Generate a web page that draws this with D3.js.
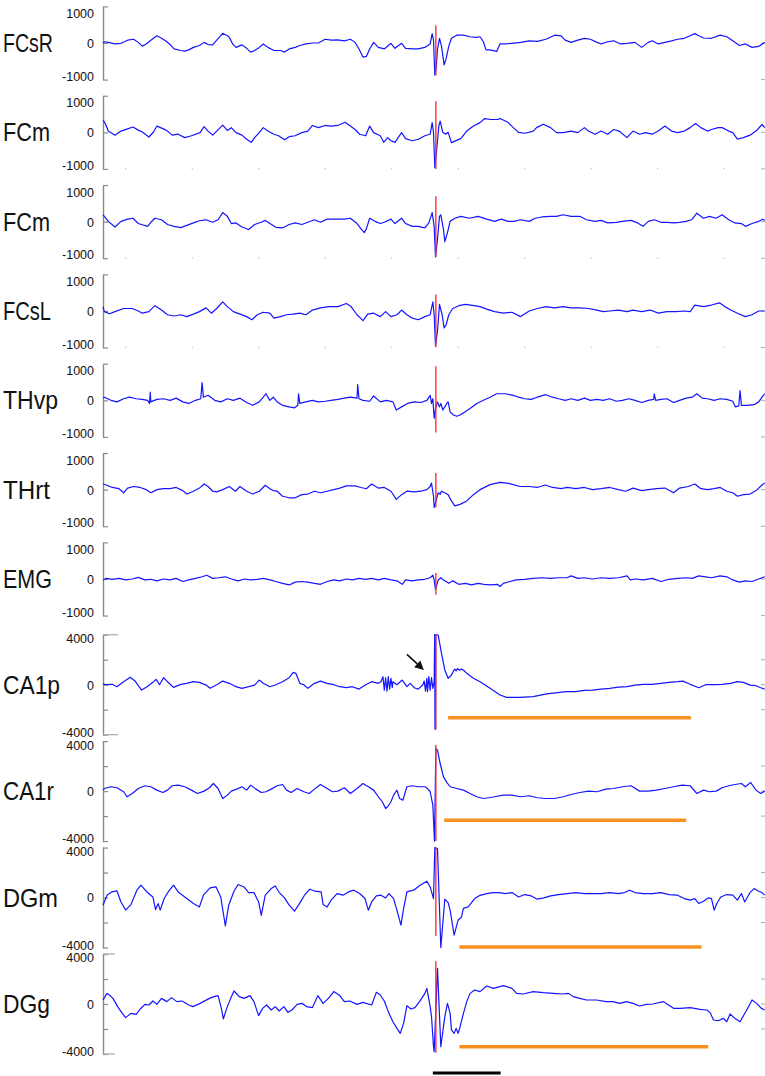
<!DOCTYPE html>
<html><head><meta charset="utf-8">
<script src="https://cdn.jsdelivr.net/npm/d3@7"></script>
<style>html,body{margin:0;padding:0;background:#fff;}svg{display:block;}</style>
</head><body>
<svg id="chart" width="765" height="1076"></svg>
<script>
// ---------------- DATA (time in s relative to stimulus, amplitude in µV) ----------------
const channelNames = ["FCsR","FCm","FCm","FCsL","THvp","THrt","EMG","CA1p","CA1r","DGm","DGg"];
const labelMagnitude = [1000,1000,1000,1000,1000,1000,1000,4000,4000,4000,4000];

const fcsR = [[-5.00,0],[-4.98,40],[-4.92,20],[-4.82,-30],[-4.73,-10],[-4.63,90],[-4.54,120],[-4.47,20],[-4.41,-100],[-4.35,-30],[-4.28,90],[-4.19,230],[-4.12,150],[-4.06,70],[-3.99,-50],[-3.93,-190],[-3.83,-240],[-3.77,-260],[-3.71,-220],[-3.64,-140],[-3.55,-80],[-3.48,20],[-3.42,-50],[-3.35,-60],[-3.29,90],[-3.20,310],[-3.13,230],[-3.10,180],[-3.05,-30],[-3.00,-140],[-2.91,-60],[-2.84,-170],[-2.78,-290],[-2.72,-240],[-2.65,-140],[-2.59,-30],[-2.52,-140],[-2.43,-240],[-2.33,-240],[-2.27,-290],[-2.20,-190],[-2.11,-140],[-2.04,-80],[-1.95,-30],[-1.85,0],[-1.76,0],[-1.66,120],[-1.57,90],[-1.47,100],[-1.37,70],[-1.28,120],[-1.21,20],[-1.15,-190],[-1.09,-450],[-1.04,-430],[-0.99,-190],[-0.93,20],[-0.86,-140],[-0.77,-190],[-0.67,-10],[-0.61,-170],[-0.51,-10],[-0.45,-170],[-0.35,-190],[-0.26,-190],[-0.16,-140],[-0.08,-30],[-0.05,300],[-0.03,100],[-0.01,-1030],[0.01,-800],[0.03,-200],[0.06,150],[0.09,-100],[0.13,-700],[0.16,-500],[0.20,-100],[0.24,150],[0.32,250],[0.42,250],[0.52,200],[0.61,180],[0.67,200],[0.72,40],[0.76,-220],[0.82,-220],[0.92,-270],[0.97,-30],[1.05,-30],[1.15,-10],[1.28,20],[1.41,70],[1.53,50],[1.66,120],[1.79,250],[1.89,230],[1.95,90],[2.04,20],[2.14,90],[2.24,150],[2.33,120],[2.43,20],[2.49,-30],[2.59,40],[2.68,70],[2.78,-30],[2.88,-10],[3.00,20],[3.10,-140],[3.20,20],[3.26,70],[3.35,-30],[3.45,20],[3.55,70],[3.64,120],[3.74,150],[3.83,230],[3.90,300],[3.96,230],[4.03,160],[4.15,150],[4.28,250],[4.38,200],[4.47,70],[4.57,-80],[4.66,-30],[4.76,-140],[4.86,-110],[4.95,20]];

const fcm1 = [[-5.00,380],[-4.97,300],[-4.92,40],[-4.82,-90],[-4.73,40],[-4.63,110],[-4.55,170],[-4.47,70],[-4.41,10],[-4.31,-150],[-4.24,10],[-4.19,200],[-4.09,110],[-4.03,40],[-3.96,-90],[-3.87,-60],[-3.77,-170],[-3.67,-110],[-3.54,-10],[-3.48,180],[-3.42,40],[-3.35,-90],[-3.29,40],[-3.20,230],[-3.13,60],[-3.07,150],[-3.00,-10],[-2.91,-90],[-2.84,-220],[-2.77,-320],[-2.72,-170],[-2.65,-10],[-2.59,150],[-2.52,40],[-2.43,-60],[-2.36,-110],[-2.27,-240],[-2.20,-140],[-2.11,-110],[-2.01,-10],[-1.92,40],[-1.85,220],[-1.76,150],[-1.66,220],[-1.57,200],[-1.47,220],[-1.36,320],[-1.28,200],[-1.21,90],[-1.14,-60],[-1.05,-110],[-0.99,200],[-0.93,-10],[-0.83,-110],[-0.78,-320],[-0.72,-170],[-0.67,-270],[-0.61,-320],[-0.51,-10],[-0.45,-200],[-0.35,-270],[-0.26,-220],[-0.16,-110],[-0.08,-60],[-0.05,310],[-0.03,0],[-0.01,-1130],[0.02,-500],[0.05,200],[0.07,360],[0.11,0],[0.15,-60],[0.19,0],[0.24,-330],[0.29,-280],[0.38,-200],[0.47,40],[0.57,200],[0.67,310],[0.74,440],[0.83,410],[0.93,410],[0.97,440],[1.09,320],[1.17,150],[1.25,0],[1.35,-30],[1.47,40],[1.52,150],[1.62,260],[1.73,150],[1.82,-10],[1.92,-10],[2.04,40],[2.14,-10],[2.24,150],[2.30,40],[2.40,-60],[2.49,40],[2.59,-60],[2.68,90],[2.76,40],[2.88,-170],[2.97,40],[3.07,-60],[3.16,-10],[3.26,-60],[3.35,40],[3.45,200],[3.55,40],[3.64,-10],[3.74,40],[3.83,150],[3.91,280],[3.99,150],[4.09,40],[4.15,90],[4.25,150],[4.31,150],[4.41,40],[4.47,-10],[4.54,-220],[4.63,-170],[4.73,-90],[4.82,40],[4.91,250],[4.95,150]];

const fcm2 = [[-5.00,220],[-4.98,170],[-4.92,10],[-4.82,-170],[-4.73,10],[-4.63,80],[-4.55,110],[-4.47,-60],[-4.41,-100],[-4.33,-150],[-4.28,-20],[-4.22,110],[-4.12,60],[-4.03,-90],[-3.93,-150],[-3.83,-190],[-3.74,-120],[-3.64,-40],[-3.55,30],[-3.45,60],[-3.35,-20],[-3.27,60],[-3.20,290],[-3.13,170],[-3.07,-60],[-3.00,-40],[-2.91,-170],[-2.81,-250],[-2.72,-90],[-2.62,-20],[-2.56,40],[-2.49,-60],[-2.40,-180],[-2.30,-200],[-2.20,-90],[-2.11,-40],[-2.01,-90],[-1.92,-20],[-1.82,60],[-1.73,-20],[-1.63,80],[-1.50,80],[-1.37,80],[-1.28,110],[-1.18,-60],[-1.12,-230],[-1.07,-350],[-1.04,-230],[-0.99,110],[-0.91,10],[-0.83,-60],[-0.77,-20],[-0.67,80],[-0.61,-60],[-0.51,110],[-0.45,-60],[-0.35,-150],[-0.26,-150],[-0.16,-200],[-0.10,-40],[-0.05,290],[-0.02,-150],[0.00,-1130],[0.03,-560],[0.06,170],[0.08,220],[0.12,-250],[0.14,-640],[0.18,-350],[0.22,10],[0.29,110],[0.38,170],[0.51,110],[0.64,170],[0.77,80],[0.89,10],[0.99,80],[1.09,10],[1.18,10],[1.28,60],[1.41,10],[1.50,110],[1.60,150],[1.73,170],[1.82,170],[1.92,220],[2.04,170],[2.17,170],[2.27,60],[2.40,10],[2.49,40],[2.59,-40],[2.72,-20],[2.81,10],[2.94,40],[3.04,-40],[3.12,-150],[3.20,10],[3.29,60],[3.39,-20],[3.48,-20],[3.58,-40],[3.67,-20],[3.77,10],[3.85,60],[3.93,270],[4.03,110],[4.12,170],[4.22,110],[4.31,220],[4.41,60],[4.50,-40],[4.60,-60],[4.66,-150],[4.76,-60],[4.86,10],[4.92,80],[4.95,40]];

const fcsL = [[-5.00,140],[-4.98,-20],[-4.90,-90],[-4.82,-20],[-4.69,80],[-4.56,80],[-4.47,0],[-4.41,-70],[-4.31,-20],[-4.22,170],[-4.12,30],[-4.03,-120],[-3.93,-160],[-3.83,-120],[-3.74,-180],[-3.64,-100],[-3.55,-20],[-3.45,100],[-3.37,-70],[-3.29,80],[-3.20,290],[-3.13,140],[-3.04,-20],[-2.94,-100],[-2.84,-180],[-2.76,-280],[-2.68,-120],[-2.59,-40],[-2.49,-70],[-2.43,-230],[-2.33,-180],[-2.24,-120],[-2.14,-100],[-2.04,-70],[-1.95,-120],[-1.85,30],[-1.73,100],[-1.60,140],[-1.47,140],[-1.34,240],[-1.27,140],[-1.18,-120],[-1.09,-310],[-1.02,-100],[-0.93,-70],[-0.83,-180],[-0.75,-20],[-0.67,-180],[-0.58,-120],[-0.51,30],[-0.43,-120],[-0.35,-230],[-0.26,-280],[-0.16,-180],[-0.08,-120],[-0.04,290],[-0.02,-120],[0.00,-1110],[0.03,-640],[0.06,210],[0.10,-120],[0.13,-540],[0.16,-440],[0.20,-120],[0.26,80],[0.35,170],[0.45,210],[0.58,170],[0.67,140],[0.77,60],[0.89,-20],[1.02,-70],[1.15,-40],[1.28,-180],[1.41,0],[1.53,80],[1.66,140],[1.79,100],[1.92,140],[2.04,100],[2.17,100],[2.30,80],[2.43,30],[2.52,-20],[2.62,0],[2.75,30],[2.88,-20],[2.97,30],[3.10,-20],[3.23,30],[3.35,-70],[3.48,-20],[3.61,-20],[3.74,0],[3.83,-20],[3.90,190],[4.03,140],[4.15,190],[4.27,260],[4.35,140],[4.44,30],[4.54,-70],[4.66,-180],[4.76,-120],[4.86,0],[4.95,0]];

const thvp = [[-5.00,70],[-4.98,100],[-4.88,0],[-4.79,-50],[-4.69,50],[-4.60,100],[-4.50,50],[-4.41,30],[-4.33,0],[-4.30,-100],[-4.29,260],[-4.28,-50],[-4.19,30],[-4.09,50],[-3.99,0],[-3.90,70],[-3.80,-50],[-3.71,-100],[-3.61,0],[-3.53,50],[-3.51,570],[-3.49,100],[-3.42,160],[-3.32,0],[-3.23,-50],[-3.13,50],[-3.04,0],[-2.94,70],[-2.84,-70],[-2.75,-160],[-2.65,-50],[-2.59,100],[-2.55,210],[-2.49,0],[-2.44,100],[-2.38,-50],[-2.30,-160],[-2.20,-210],[-2.12,-240],[-2.07,-160],[-2.06,210],[-2.04,-100],[-1.95,-50],[-1.85,0],[-1.76,-50],[-1.66,-30],[-1.57,0],[-1.47,30],[-1.37,70],[-1.28,100],[-1.18,70],[-1.17,500],[-1.15,50],[-1.09,0],[-0.99,-30],[-0.93,140],[-0.83,-50],[-0.74,0],[-0.64,-50],[-0.59,-310],[-0.51,-210],[-0.42,-100],[-0.32,-50],[-0.22,-70],[-0.13,0],[-0.08,160],[-0.06,-100],[-0.04,50],[-0.02,-570],[0.00,-260],[0.03,-50],[0.06,-210],[0.08,-100],[0.11,-310],[0.14,-210],[0.17,-100],[0.19,-50],[0.22,-370],[0.27,-470],[0.32,-510],[0.37,-470],[0.44,-370],[0.52,-260],[0.62,-100],[0.72,0],[0.82,100],[0.92,210],[1.05,210],[1.17,160],[1.25,100],[1.34,50],[1.44,30],[1.53,100],[1.66,180],[1.76,100],[1.85,50],[1.95,0],[2.04,50],[2.14,0],[2.24,70],[2.33,0],[2.43,30],[2.52,0],[2.62,50],[2.72,-30],[2.81,0],[2.91,50],[3.00,0],[3.10,-70],[3.20,0],[3.28,30],[3.29,210],[3.31,0],[3.39,30],[3.48,50],[3.58,-70],[3.67,0],[3.77,70],[3.86,100],[3.93,210],[4.01,70],[4.09,50],[4.19,0],[4.28,50],[4.38,30],[4.47,-30],[4.51,-210],[4.56,-180],[4.58,310],[4.60,-160],[4.69,-160],[4.79,-140],[4.86,-50],[4.91,100],[4.95,210]];

const thrt = [[-5.00,180],[-4.95,150],[-4.86,70],[-4.76,30],[-4.69,-100],[-4.63,50],[-4.54,100],[-4.44,70],[-4.35,0],[-4.28,-100],[-4.19,0],[-4.09,30],[-3.99,30],[-3.90,70],[-3.80,-30],[-3.74,-140],[-3.64,-50],[-3.55,50],[-3.48,180],[-3.42,100],[-3.35,-50],[-3.29,-70],[-3.20,0],[-3.10,100],[-3.01,-50],[-2.94,100],[-2.84,-50],[-2.75,-140],[-2.65,-50],[-2.56,140],[-2.49,30],[-2.44,-30],[-2.38,-50],[-2.30,-210],[-2.20,-260],[-2.11,-260],[-2.01,-160],[-1.92,-140],[-1.82,-50],[-1.73,-100],[-1.63,-50],[-1.53,0],[-1.44,50],[-1.34,120],[-1.21,120],[-1.12,70],[-1.04,30],[-0.96,180],[-0.86,50],[-0.77,70],[-0.67,-50],[-0.59,-310],[-0.51,-160],[-0.43,-50],[-0.32,-70],[-0.22,-50],[-0.13,0],[-0.08,100],[-0.06,210],[-0.03,-210],[-0.02,-570],[0.00,-420],[0.04,-100],[0.07,-150],[0.09,-50],[0.14,-100],[0.19,-160],[0.24,-360],[0.29,-520],[0.37,-470],[0.47,-360],[0.57,-160],[0.67,0],[0.82,160],[0.97,230],[1.10,200],[1.27,100],[1.41,100],[1.53,70],[1.65,150],[1.76,70],[1.89,30],[1.98,70],[2.11,30],[2.24,70],[2.36,0],[2.49,30],[2.62,70],[2.75,0],[2.86,-50],[2.97,50],[3.10,-30],[3.20,0],[3.32,30],[3.45,50],[3.58,-100],[3.67,50],[3.80,100],[3.90,180],[3.99,30],[4.09,0],[4.19,30],[4.28,70],[4.38,-50],[4.47,-100],[4.54,-210],[4.63,-160],[4.73,-140],[4.82,-30],[4.91,150],[4.95,210]];

const emg = [[-5.00,-30],[-4.95,20],[-4.86,-10],[-4.76,20],[-4.66,-30],[-4.56,0],[-4.47,50],[-4.37,-30],[-4.28,-10],[-4.19,-60],[-4.09,0],[-3.99,-30],[-3.90,20],[-3.80,-80],[-3.71,-30],[-3.61,20],[-3.51,70],[-3.44,120],[-3.35,20],[-3.26,40],[-3.16,70],[-3.07,0],[-2.97,-60],[-2.87,0],[-2.78,-30],[-2.68,-10],[-2.59,20],[-2.49,-30],[-2.40,-80],[-2.30,-140],[-2.20,-190],[-2.11,-100],[-2.01,-80],[-1.92,-100],[-1.82,-140],[-1.73,-170],[-1.63,-80],[-1.53,-30],[-1.44,-60],[-1.34,0],[-1.25,-30],[-1.15,20],[-1.05,-10],[-0.96,20],[-0.86,-30],[-0.77,20],[-0.67,-30],[-0.58,-60],[-0.50,-170],[-0.45,-30],[-0.35,-60],[-0.26,-30],[-0.16,-10],[-0.08,40],[-0.04,120],[-0.02,-30],[0.00,-340],[0.02,-190],[0.04,-30],[0.08,40],[0.12,-30],[0.16,-80],[0.20,-140],[0.26,-60],[0.35,-170],[0.45,-140],[0.54,-190],[0.64,-140],[0.73,-170],[0.83,-190],[0.93,-170],[0.97,-240],[1.02,-140],[1.12,-80],[1.21,-30],[1.34,-10],[1.47,20],[1.60,40],[1.73,20],[1.85,40],[1.98,40],[2.04,100],[2.14,20],[2.24,40],[2.36,0],[2.49,40],[2.62,20],[2.75,40],[2.88,100],[2.93,-30],[3.00,0],[3.13,-30],[3.26,20],[3.39,-80],[3.51,-10],[3.64,20],[3.77,40],[3.86,20],[3.96,100],[4.06,70],[4.15,40],[4.28,100],[4.38,70],[4.47,-30],[4.57,-100],[4.66,-60],[4.76,-80],[4.86,0],[4.95,70]];

const ca1p = [[-5.00,50],[-4.95,0],[-4.86,30],[-4.79,-160],[-4.69,240],[-4.59,590],[-4.52,300],[-4.42,-430],[-4.35,-200],[-4.24,240],[-4.20,430],[-4.15,0],[-4.09,560],[-4.03,240],[-3.94,-210],[-3.83,30],[-3.74,110],[-3.64,240],[-3.55,190],[-3.45,-30],[-3.39,-290],[-3.29,0],[-3.20,290],[-3.10,110],[-3.00,-160],[-2.91,-290],[-2.81,-160],[-2.72,-30],[-2.65,370],[-2.59,110],[-2.49,-160],[-2.40,0],[-2.30,240],[-2.20,560],[-2.14,990],[-2.10,910],[-2.07,510],[-2.04,110],[-1.98,0],[-1.92,-290],[-1.82,110],[-1.73,290],[-1.63,110],[-1.53,0],[-1.44,-160],[-1.34,-240],[-1.25,-160],[-1.15,-350],[-1.05,0],[-0.96,240],[-0.86,110],[-0.82,240],[-0.79,640],[-0.77,-430],[-0.75,560],[-0.73,-510],[-0.71,640],[-0.69,-350],[-0.67,510],[-0.65,-240],[-0.64,240],[-0.58,0],[-0.50,370],[-0.43,-160],[-0.38,110],[-0.32,-240],[-0.26,-350],[-0.19,0],[-0.17,290],[-0.15,-510],[-0.13,510],[-0.12,-560],[-0.10,640],[-0.08,-430],[-0.06,560],[-0.04,-290],[-0.02,240],[-0.012,4000],[-0.008,-3550],[-0.004,4000],[0.0,-3550],[0.004,4000],[0.04,3980],[0.09,2510],[0.14,1180],[0.19,510],[0.24,780],[0.27,1100],[0.29,1250],[0.31,1100],[0.33,1300],[0.36,1150],[0.39,1250],[0.42,1180],[0.47,910],[0.57,510],[0.67,240],[0.82,-290],[0.97,-820],[1.07,-1010],[1.27,-1010],[1.47,-960],[1.67,-740],[1.97,-560],[2.11,-560],[2.24,-450],[2.36,-430],[2.49,-350],[2.62,-290],[2.75,-190],[2.88,-160],[3.00,-30],[3.13,30],[3.26,30],[3.39,110],[3.51,190],[3.64,240],[3.72,290],[3.83,30],[3.96,-240],[4.06,0],[4.19,0],[4.31,30],[4.44,110],[4.54,240],[4.63,190],[4.73,-30],[4.82,-80],[4.89,-240],[4.95,-350]];

const ca1r = [[-5.00,80],[-4.98,210],[-4.88,350],[-4.79,270],[-4.69,-50],[-4.64,-450],[-4.56,-190],[-4.47,210],[-4.37,430],[-4.28,350],[-4.19,80],[-4.10,-110],[-4.03,80],[-3.96,430],[-3.87,480],[-3.77,350],[-3.67,80],[-3.58,-190],[-3.48,0],[-3.40,270],[-3.34,610],[-3.27,210],[-3.20,-590],[-3.13,-320],[-3.07,0],[-2.99,160],[-2.91,350],[-2.84,80],[-2.78,480],[-2.70,160],[-2.62,-110],[-2.55,-50],[-2.47,160],[-2.38,430],[-2.30,530],[-2.24,80],[-2.17,-110],[-2.08,210],[-1.98,-50],[-1.90,-190],[-1.82,160],[-1.73,530],[-1.63,210],[-1.55,-50],[-1.47,0],[-1.37,270],[-1.28,-190],[-1.18,210],[-1.09,610],[-1.01,350],[-0.93,80],[-0.86,-450],[-0.80,-850],[-0.75,-1390],[-0.72,-1250],[-0.67,-850],[-0.63,-320],[-0.58,80],[-0.54,-590],[-0.49,-720],[-0.43,350],[-0.35,430],[-0.26,350],[-0.16,350],[-0.12,210],[-0.08,-50],[-0.04,-1120],[-0.03,-2300],[-0.015,-4000],[0.005,3400],[0.03,3280],[0.07,2210],[0.12,1140],[0.17,700],[0.22,350],[0.32,210],[0.42,80],[0.52,-190],[0.62,-450],[0.72,-590],[0.80,-530],[0.89,-450],[1.02,-320],[1.15,-320],[1.28,-450],[1.41,-370],[1.53,-530],[1.66,-590],[1.79,-590],[1.92,-450],[2.04,-270],[2.17,-110],[2.30,0],[2.43,-50],[2.56,160],[2.68,210],[2.81,350],[2.94,430],[3.07,0],[3.20,0],[3.32,80],[3.45,210],[3.58,350],[3.71,480],[3.83,430],[3.93,-190],[4.03,80],[4.12,-50],[4.22,0],[4.31,270],[4.41,430],[4.50,530],[4.60,610],[4.66,350],[4.74,690],[4.82,80],[4.89,-190],[4.95,0]];

const dgm = [[-5.00,-610],[-4.94,190],[-4.87,450],[-4.79,530],[-4.73,-350],[-4.66,-1000],[-4.58,-560],[-4.49,590],[-4.43,990],[-4.34,450],[-4.25,50],[-4.21,-960],[-4.17,-480],[-4.14,-1010],[-4.08,-80],[-4.02,450],[-3.94,990],[-3.86,400],[-3.74,-80],[-3.64,-480],[-3.55,-750],[-3.49,190],[-3.39,770],[-3.30,850],[-3.23,50],[-3.16,-2270],[-3.11,-610],[-3.03,510],[-2.97,1040],[-2.88,850],[-2.81,400],[-2.73,400],[-2.66,-350],[-2.62,-1420],[-2.56,190],[-2.47,720],[-2.41,930],[-2.35,400],[-2.27,-30],[-2.20,-610],[-2.12,-1090],[-2.06,-610],[-1.97,190],[-1.89,670],[-1.81,510],[-1.72,450],[-1.69,-560],[-1.63,-750],[-1.57,-210],[-1.48,320],[-1.39,190],[-1.31,450],[-1.23,590],[-1.14,320],[-1.06,-80],[-1.01,-1010],[-0.96,-350],[-0.89,130],[-0.82,190],[-0.75,-30],[-0.70,320],[-0.63,-80],[-0.58,-1000],[-0.52,-2210],[-0.48,-880],[-0.43,450],[-0.33,590],[-0.23,990],[-0.13,1310],[-0.08,850],[-0.03,-80],[-0.01,4000],[0.03,3900],[0.08,-4000],[0.14,-130],[0.19,-400],[0.22,-1000],[0.28,-3000],[0.34,-1800],[0.39,-1570],[0.42,-860],[0.49,-750],[0.59,-80],[0.67,180],[0.77,320],[0.86,400],[0.96,400],[1.05,320],[1.15,400],[1.25,50],[1.34,240],[1.44,130],[1.53,-130],[1.63,-30],[1.73,130],[1.85,240],[1.98,320],[2.11,400],[2.24,320],[2.36,320],[2.49,320],[2.62,400],[2.75,320],[2.84,400],[2.92,590],[3.00,400],[3.13,320],[3.26,320],[3.39,400],[3.51,240],[3.64,190],[3.74,-80],[3.83,-210],[3.90,-80],[3.96,-480],[4.03,-290],[4.10,-30],[4.15,-80],[4.19,-1010],[4.23,-480],[4.29,50],[4.38,240],[4.47,190],[4.54,-210],[4.60,320],[4.65,-350],[4.73,400],[4.79,720],[4.86,510],[4.91,400],[4.95,190]];

const dgg = [[-5.00,320],[-4.94,850],[-4.90,700],[-4.85,450],[-4.78,-210],[-4.71,-750],[-4.66,-1090],[-4.58,-750],[-4.50,-830],[-4.44,-400],[-4.37,-30],[-4.31,-80],[-4.25,240],[-4.19,-30],[-4.12,450],[-4.04,190],[-3.97,510],[-3.89,190],[-3.81,240],[-3.71,-80],[-3.65,-210],[-3.57,-30],[-3.49,190],[-3.40,450],[-3.33,590],[-3.27,670],[-3.22,-350],[-3.19,-1200],[-3.14,-350],[-3.08,450],[-3.03,1040],[-2.95,590],[-2.88,450],[-2.79,670],[-2.73,190],[-2.66,-930],[-2.60,-350],[-2.54,-80],[-2.47,-480],[-2.41,-210],[-2.35,-560],[-2.28,-210],[-2.22,-670],[-2.16,-480],[-2.08,-30],[-2.01,50],[-1.94,-210],[-1.85,-290],[-1.77,670],[-1.69,50],[-1.61,450],[-1.53,990],[-1.44,670],[-1.37,190],[-1.29,240],[-1.18,-30],[-1.09,130],[-0.96,-80],[-0.89,930],[-0.83,720],[-0.77,240],[-0.70,-750],[-0.64,-1420],[-0.58,-1950],[-0.53,-2350],[-0.48,-1550],[-0.43,-130],[-0.37,-400],[-0.31,-290],[-0.24,190],[-0.16,850],[-0.13,1250],[-0.08,-210],[-0.06,-1010],[-0.03,-3420],[-0.02,-3810],[0.03,2860],[0.08,-3420],[0.14,-1010],[0.18,50],[0.22,-750],[0.24,-2080],[0.28,-2350],[0.31,-1950],[0.34,-2350],[0.37,-1820],[0.42,-750],[0.47,190],[0.52,850],[0.59,1120],[0.67,990],[0.77,1440],[0.87,1250],[1.02,1470],[1.15,1250],[1.22,850],[1.32,800],[1.47,990],[1.62,910],[1.77,850],[1.90,800],[2.00,850],[2.07,590],[2.17,450],[2.27,320],[2.42,320],[2.57,190],[2.67,190],[2.77,50],[2.87,190],[2.97,50],[3.07,-160],[3.17,-30],[3.27,0],[3.43,190],[3.48,0],[3.58,-350],[3.68,-350],[3.83,-290],[3.98,-430],[4.08,-480],[4.13,-690],[4.18,-1280],[4.25,-1340],[4.33,-1150],[4.38,-1420],[4.43,-800],[4.50,-1150],[4.58,-1420],[4.68,-480],[4.76,320],[4.83,50],[4.90,-350],[4.95,-480]];

const traces = [fcsR, fcm1, fcm2, fcsL, thvp, thrt, emg, ca1p, ca1r, dgm, dgg];

// stimulus marker (red) extent per channel, µV
const stimTime = 0.005;
const stimTop    = [560, 990, 810, 530, 1090, 530, 190, 4000, 3700, 4030, 3420];
const stimBottom = [-1030, -1170, -1130, -1160, -1030, -560, -500, -3600, -4000, -3070, -3900];

// orange duration bars (channel index, start s, end s, level µV)
const barChannel = [7, 8, 9, 10];
const barStart   = [0.19, 0.13, 0.36, 0.36];
const barEnd     = [3.84, 3.77, 4.00, 4.10];
const barLevel   = [-2640, -2340, -3950, -3420];

// arrow in CA1p (time s, µV)
const arrowFrom = [-0.43, 2430];
const arrowTo   = [-0.175, 1180];

// time scale bar (s)
const scaleBar = [-0.04, 0.98];
// faint time ticks (s)
const timeTicks = [-4.66, -3.66, -2.66, -1.66, -0.66, 0.34, 1.34, 2.34, 3.34, 4.34];

// ---------------- LAYOUT ----------------
const svg = d3.select("#chart");
const x = d3.scaleLinear().domain([-5, 5]).range([103, 768]);
const labelWidths = [50, 47, 47, 48, 55, 47, 49, 57, 51, 55, 47];

function panelScale(i) {
  if (i < 7) {
    const z = 43 + 89.33 * i;
    return {z, y: d3.scaleLinear().domain([-1170, 1170]).range([z + 36.6, z - 36.6]), small: true};
  }
  const z = 684.7 + 106.43 * (i - 7);
  return {z, y: d3.scaleLinear().domain([-4050, 4050]).range([z + 50.6, z - 50.6]), small: false};
}

const line = d3.line().x(d => x(d[0]));
const axisColor = "#8a8a8a";

channelNames.forEach((name, i) => {
  const {z, y, small} = panelScale(i);
  const g = svg.append("g");

  // left axis
  const tv = small ? [-1170, 0, 1170] : [-4000, -2000, 0, 2000, 4000];
  const ax = g.append("g").attr("transform", "translate(103,0)")
    .call(d3.axisRight(y).tickValues(tv).tickSize(5).tickSizeOuter(0).tickFormat(""));
  ax.select(".domain").attr("stroke", axisColor).attr("stroke-width", 1.4);
  ax.selectAll(".tick line").attr("stroke", axisColor).attr("stroke-width", 1.2);

  // right-side small ticks
  const rtv = small ? [-1170, 0] : [-2000, 0, 2000];
  g.selectAll(".rt").data(rtv).enter().append("line")
    .attr("x1", 761).attr("x2", 765)
    .attr("y1", d => y(d)).attr("y2", d => y(d))
    .attr("stroke", "#aaa").attr("stroke-width", 1);

  // faint bottom time ticks
  if (i >= 1 && i <= 3) {
    g.selectAll(".bt").data(timeTicks).enter().append("rect")
      .attr("x", d => x(d) - 0.5).attr("y", y(-1170) - 1)
      .attr("width", 1.2).attr("height", 1.5).attr("fill", "#c8c8c8");
  }

  // tick labels
  const m = labelMagnitude[i];
  const labs = [
    {v: m, txt: String(m), off: small ? 2 : 4},
    {v: 0, txt: "0", off: 0.5},
    {v: -m, txt: "-" + m, off: small ? 2 : -2}
  ];
  g.selectAll(".tl").data(labs).enter().append("text")
    .attr("x", 94).attr("y", d => y(d.v) + d.off).attr("dy", "0.35em")
    .attr("text-anchor", "end")
    .attr("font-family", "Liberation Sans, Arial, sans-serif")
    .attr("font-size", 12.5).attr("fill", "#111")
    .text(d => d.txt);

  // channel name
  g.append("text").attr("x", 3).attr("y", z + 9)
    .attr("font-family", "Liberation Sans, Arial, sans-serif")
    .attr("font-size", 25).attr("fill", "#111")
    .attr("textLength", labelWidths[i]).attr("lengthAdjust", "spacingAndGlyphs")
    .text(name);

  // trace
  g.append("path").datum(traces[i])
    .attr("d", line.y(d => y(d[1])))
    .attr("fill", "none").attr("stroke", "#1414ff").attr("stroke-width", 1.2)
    .attr("stroke-linejoin", "round");

  // stimulus marker
  g.append("line")
    .attr("x1", x(stimTime)).attr("x2", x(stimTime))
    .attr("y1", y(stimTop[i])).attr("y2", y(stimBottom[i]))
    .attr("stroke", "#ff2a2a").attr("stroke-width", 1.5).attr("opacity", 0.9);
});

// extra-long end ticks on CA1p and DGg axes
[[7, 15], [10, 12]].forEach(([i, len]) => {
  const {y} = panelScale(i);
  [-4000, 4000].forEach(v => {
    svg.append("line").attr("x1", 103).attr("x2", 103 + len)
      .attr("y1", y(v)).attr("y2", y(v))
      .attr("stroke", "#b0b0b0").attr("stroke-width", 1.3);
  });
});

// duration bars
barChannel.forEach((ch, k) => {
  const {y} = panelScale(ch);
  svg.append("line")
    .attr("x1", x(barStart[k])).attr("x2", x(barEnd[k]))
    .attr("y1", y(barLevel[k])).attr("y2", y(barLevel[k]))
    .attr("stroke", "#f7901e").attr("stroke-width", 3.5);
});

// arrow
{
  const {y} = panelScale(7);
  const x1 = x(arrowFrom[0]), y1 = y(arrowFrom[1]);
  const x2 = x(arrowTo[0]), y2 = y(arrowTo[1]);
  const ang = Math.atan2(y2 - y1, x2 - x1);
  const hl = 9, hw = 4.5;
  const bx = x2 - hl * Math.cos(ang), by = y2 - hl * Math.sin(ang);
  svg.append("line").attr("x1", x1).attr("y1", y1).attr("x2", bx).attr("y2", by)
    .attr("stroke", "#111").attr("stroke-width", 1.6);
  svg.append("path")
    .attr("d", `M${x2},${y2}L${bx - hw * Math.sin(ang)},${by + hw * Math.cos(ang)}L${bx + hw * Math.sin(ang)},${by - hw * Math.cos(ang)}Z`)
    .attr("fill", "#111");
}

// scale bar
svg.append("line")
  .attr("x1", x(scaleBar[0])).attr("x2", x(scaleBar[1]))
  .attr("y1", 1073).attr("y2", 1073)
  .attr("stroke", "#000").attr("stroke-width", 3);
</script>
</body></html>
